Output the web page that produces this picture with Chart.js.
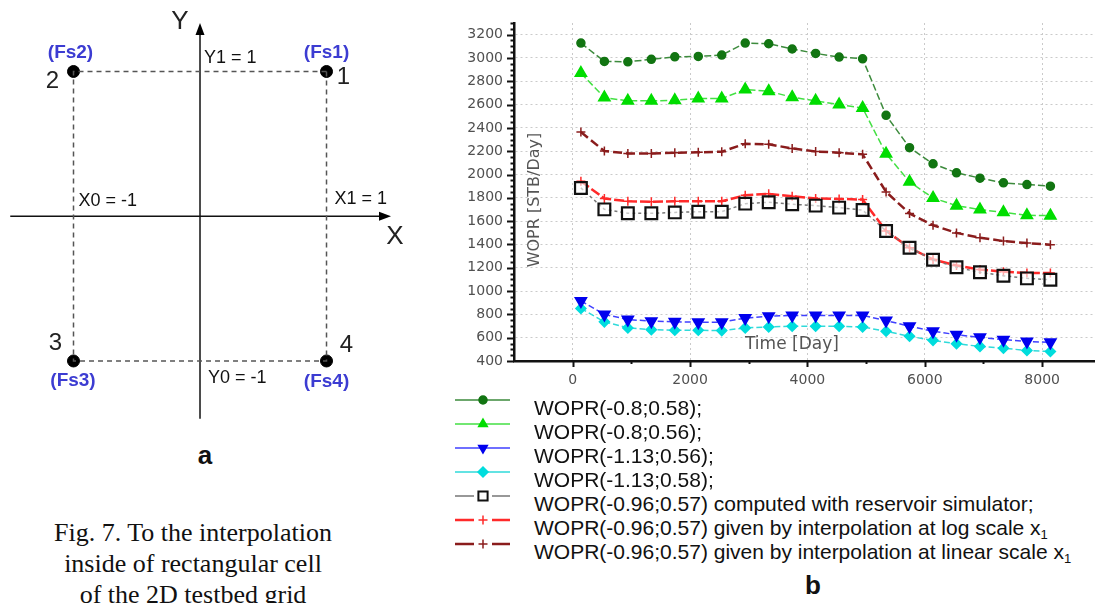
<!DOCTYPE html>
<html>
<head>
    <meta charset="utf-8">
    <title>WOPR interpolation</title>
    <script src="https://cdn.jsdelivr.net/npm/chart.js"></script>
    <style type="text/css">
        html, body { margin: 0; padding: 0; background: #fff; }
        body { width: 1095px; height: 603px; position: relative; overflow: hidden;
               font-family: "Liberation Sans", Arial, sans-serif; }
        #cell { position: absolute; left: 0; top: 0; }
        #wopr { position: absolute; left: 440px; top: 0; }
        .panel { position: absolute; width: 40px; text-align: center; font-weight: bold;
                 font-size: 26px; line-height: 30px; color: #111; }
        #caption { position: absolute; left: 0; top: 517px; width: 386px; text-align: center;
                   font-family: "Liberation Serif", "Times New Roman", serif; font-size: 26px;
                   line-height: 31px; color: #111; }
        .lg-text { position: absolute; left: 534px; height: 24px; line-height: 24px; font-size: 21px;
                   color: #111; white-space: nowrap; }
        .lg-swatch { position: absolute; left: 455px; }
        sub { font-size: 13px; vertical-align: -4px; line-height: 0; }
    </style>
</head>
<body>
    <canvas id="cell" width="420" height="430"></canvas>
    <canvas id="wopr" width="655" height="400"></canvas>
    <div class="panel" style="left:185px; top:440px;">a</div>
    <div class="panel" style="left:793px; top:570px;">b</div>
    <div id="caption">Fig. 7. To the interpolation<br>inside of rectangular cell<br>of the 2D testbed grid</div>
    <div id="legend"></div>

    <script>
        // ---- panel a : interpolation cell ----
        const cellX = [1, -1, -1, 1];
        const cellY = [1, 1, -1, -1];
        const cellNums = ['1', '2', '3', '4'];
        const cellFs = ['(Fs1)', '(Fs2)', '(Fs3)', '(Fs4)'];
        const axisXRange = [-1.5, 1.51];
        const axisYRange = [-1.4, 1.335];
        const boundLabels = ['Y1 = 1', 'X0 = -1', 'X1 = 1', 'Y0 = -1'];
        const boundAt = [[0, 1], [-1, 0], [1, 0], [0, -1]];

        // ---- panel b : WOPR vs time ----
        const days = [140, 540, 940, 1340, 1740, 2140, 2540, 2940, 3340, 3740, 4140,
            4540, 4940, 5340, 5740, 6140, 6540, 6940, 7340, 7740, 8140];
        const woprA = [3128, 2970, 2967, 2988, 3010, 3013, 3025, 3128, 3122, 3077, 3039,
            3008, 2993, 2508, 2230, 2092, 2015, 1969, 1929, 1914, 1900];
        const woprB = [2870, 2660, 2632, 2632, 2637, 2652, 2652, 2729, 2715, 2663, 2632,
            2600, 2571, 2178, 1937, 1799, 1733, 1699, 1676, 1650, 1647];
        const woprC = [915, 800, 756, 742, 736, 733, 733, 768, 785, 791, 791,
            791, 791, 747, 698, 655, 626, 603, 583, 568, 560];
        const woprD = [851, 736, 684, 669, 664, 664, 661, 684, 692, 698, 698,
            698, 692, 655, 612, 577, 548, 525, 510, 490, 482];
        const woprSim = [1885, 1701, 1667, 1667, 1675, 1681, 1681, 1750, 1762, 1745, 1733,
            1716, 1695, 1516, 1372, 1268, 1204, 1161, 1132, 1109, 1097];
        const woprLog = [1943, 1794, 1771, 1766, 1771, 1771, 1771, 1822, 1834, 1814, 1794,
            1791, 1785, 1516, 1372, 1271, 1219, 1184, 1166, 1155, 1155];
        const woprLin = [2365, 2201, 2181, 2181, 2187, 2190, 2196, 2264, 2259, 2224, 2198,
            2187, 2173, 1851, 1666, 1565, 1499, 1458, 1429, 1412, 1398];
        const seriesNames = [
            'WOPR(-0.8;0.58);',
            'WOPR(-0.8;0.56);',
            'WOPR(-1.13;0.56);',
            'WOPR(-1.13;0.58);',
            'WOPR(-0.96;0.57) computed with reservoir simulator;',
            'WOPR(-0.96;0.57) given by interpolation at log scale x₁',
            'WOPR(-0.96;0.57) given by interpolation at linear scale x₁'
        ];
        const xTicks = [0, 2000, 4000, 6000, 8000];
        const yTicks = [400, 600, 800, 1000, 1200, 1400, 1600, 1800, 2000, 2200, 2400,
            2600, 2800, 3000, 3200];
        const yTickStep = 200, yMinorStep = 50;
        const xTickStep = 2000, xMinorStep = 1000;

        // ---------- panel a ----------
        const corners = cellX.map((x, i) => ({ x: x, y: cellY[i] }));

        const cellDecor = {
            id: 'cellDecor',
            afterDatasetsDraw(chart) {
                const ctx = chart.ctx;
                const sx = chart.scales.x, sy = chart.scales.y;
                const px = v => sx.getPixelForValue(v), py = v => sy.getPixelForValue(v);
                ctx.save();
                ctx.fillStyle = '#000';
                // arrow heads
                let tx = px(axisXRange[1]), ty = py(0);
                ctx.beginPath();
                ctx.moveTo(tx, ty); ctx.lineTo(tx - 12, ty - 4.5); ctx.lineTo(tx - 12, ty + 4.5);
                ctx.closePath(); ctx.fill();
                tx = px(0); ty = py(axisYRange[1]);
                ctx.beginPath();
                ctx.moveTo(tx, ty); ctx.lineTo(tx - 4.5, ty + 12); ctx.lineTo(tx + 4.5, ty + 12);
                ctx.closePath(); ctx.fill();

                ctx.textAlign = 'center';
                ctx.textBaseline = 'middle';
                ctx.fillStyle = '#222';
                ctx.font = '26px "Liberation Sans", Arial';
                ctx.fillText('Y', px(0) - 20, py(axisYRange[1]) - 1);
                ctx.fillText('X', px(axisXRange[1]) + 4, py(0) + 21);

                const fsOff = [[0, -19], [-3, -19], [-0.5, 20], [0, 21]];
                const numOff = [[17, 6], [-21, 9.5], [-18, -17.5], [20, -16]];
                corners.forEach((c, i) => {
                    ctx.font = 'bold 19px "Liberation Sans", Arial';
                    ctx.fillStyle = '#3c3cd2';
                    ctx.fillText(cellFs[i], px(c.x) + fsOff[i][0], py(c.y) + fsOff[i][1]);
                    ctx.font = '24px "Liberation Sans", Arial';
                    ctx.fillStyle = '#222';
                    ctx.fillText(cellNums[i], px(c.x) + numOff[i][0], py(c.y) + numOff[i][1]);
                });

                const bOff = [[4, -13], [5, -15], [8, -17], [8, 17]];
                ctx.textAlign = 'left';
                ctx.font = '18px "Liberation Sans", Arial';
                ctx.fillStyle = '#111';
                boundLabels.forEach((t, i) => {
                    ctx.fillText(t, px(boundAt[i][0]) + bOff[i][0], py(boundAt[i][1]) + bOff[i][1]);
                });
                ctx.restore();
            }
        };

        new Chart(document.getElementById('cell'), {
            type: 'scatter',
            data: {
                datasets: [{
                    data: corners.concat([corners[0]]),
                    showLine: true, borderColor: '#555', borderWidth: 1.5, borderDash: [5, 4],
                    pointRadius: 0
                }, {
                    data: [{ x: axisXRange[0], y: 0 }, { x: axisXRange[1] - 0.05, y: 0 }],
                    showLine: true, borderColor: '#111', borderWidth: 1.5, pointRadius: 0
                }, {
                    data: [{ x: 0, y: axisYRange[0] }, { x: 0, y: axisYRange[1] - 0.05 }],
                    showLine: true, borderColor: '#111', borderWidth: 1.5, pointRadius: 0
                }, {
                    data: corners,
                    pointRadius: 6, pointBackgroundColor: '#000', pointBorderColor: '#000'
                }]
            },
            options: {
                responsive: false,
                animation: false,
                clip: false,
                layout: { padding: 0, autoPadding: false },
                plugins: { legend: { display: false }, tooltip: { enabled: false } },
                scales: {
                    x: { type: 'linear', display: false, min: -1.581, max: 1.739 },
                    y: { type: 'linear', display: false, min: -1.477, max: 1.494 }
                }
            },
            plugins: [cellDecor]
        });

        // ---------- panel b ----------
        const pts = vals => vals.map((v, i) => ({ x: days[i], y: v }));

        const styles = [
            { line: '#3d8b3d', mark: '#127512', style: 'circle', r: 4, dash: [7, 3], w: 1.5 },
            { line: '#44e044', mark: '#00dd00', style: 'triangle', r: 6.5, dash: [7, 3], w: 1.5 },
            { line: '#4040ff', mark: '#0000ee', style: 'triangle', r: 6.5, rot: 180, dash: [6, 3], w: 1.5 },
            { line: '#30dada', mark: '#00dddd', style: 'rectRot', r: 5, dash: [6, 3], w: 1.5 },
            { line: '#777777', mark: '#111111', style: 'rect', r: 8.3, dash: [3, 3], w: 1.5, open: true },
            { line: '#ff2a2a', mark: '#ff2a2a', style: 'cross', r: 4.5, dash: [10, 3], w: 2.5 },
            { line: '#8a1c1c', mark: '#8a1c1c', style: 'cross', r: 4.5, dash: [9, 4], w: 2.5 }
        ];
        const seriesVals = [woprA, woprB, woprC, woprD, woprSim, woprLog, woprLin];

        const datasets = seriesVals.map((vals, i) => {
            const s = styles[i];
            return {
                label: seriesNames[i],
                data: pts(vals),
                borderColor: s.line,
                borderWidth: s.w,
                borderDash: s.dash,
                tension: 0,
                pointStyle: s.style,
                pointRadius: s.r,
                pointRotation: s.rot || 0,
                pointBackgroundColor: s.open ? 'rgba(255,255,255,0.6)' : s.mark,
                pointBorderColor: s.mark,
                pointBorderWidth: s.open ? 2.2 : 1.5
            };
        });

        const axisDecor = {
            id: 'axisDecor',
            afterDraw(chart) {
                const ctx = chart.ctx, a = chart.chartArea;
                const sx = chart.scales.x, sy = chart.scales.y;
                ctx.save();
                ctx.strokeStyle = '#111';
                ctx.lineWidth = 2;
                for (let v = sy.min; v <= sy.max; v += yMinorStep) {
                    const p = Math.round(sy.getPixelForValue(v)) + 0.5;
                    const len = v % yTickStep === 0 ? 7 : 3.5;
                    ctx.beginPath(); ctx.moveTo(a.left - len, p); ctx.lineTo(a.left, p); ctx.stroke();
                }
                for (let v = 0; v <= sx.max; v += xMinorStep) {
                    const p = Math.round(sx.getPixelForValue(v)) + 0.5;
                    const len = v % xTickStep === 0 ? 6 : 3;
                    ctx.beginPath(); ctx.moveTo(p, a.bottom); ctx.lineTo(p, a.bottom + len); ctx.stroke();
                }
                ctx.fillStyle = '#555';
                ctx.textBaseline = 'middle';
                ctx.textAlign = 'center';
                ctx.font = '16px "DejaVu Sans"';
                ctx.translate(a.left + 21, 200);
                ctx.rotate(-Math.PI / 2);
                ctx.fillText('WOPR [STB/Day]', 0, 0);
                ctx.setTransform(1, 0, 0, 1, 0, 0);
                ctx.textAlign = 'left';
                ctx.font = '17px "DejaVu Sans"';
                ctx.fillText('Time [Day]', a.left + 231, a.bottom - 16);
                ctx.restore();
            }
        };

        const tickFont = { family: 'DejaVu Sans', size: 14 };
        new Chart(document.getElementById('wopr'), {
            type: 'line',
            data: { datasets: datasets },
            options: {
                responsive: false,
                animation: false,
                layout: { padding: { top: 23, right: 0, left: 0, bottom: 0 }, autoPadding: false },
                plugins: { legend: { display: false }, tooltip: { enabled: false } },
                scales: {
                    x: {
                        type: 'linear', min: -1000, max: 8900,
                        afterBuildTicks: s => { s.ticks = xTicks.map(v => ({ value: v })); },
                        ticks: { color: '#505050', font: tickFont, padding: 11, maxRotation: 0,
                                 autoSkip: false, callback: v => String(v) },
                        grid: { color: '#cacaca', drawTicks: false, lineWidth: 1 },
                        border: { color: '#111', width: 2.5, dash: [2, 3] },
                        afterFit: s => { s.height = 39; }
                    },
                    y: {
                        min: 400, max: 3300,
                        afterBuildTicks: s => { s.ticks = yTicks.map(v => ({ value: v })); },
                        ticks: { color: '#505050', font: tickFont, padding: 11, autoSkip: false,
                                 callback: v => String(v) },
                        grid: { color: '#cacaca', drawTicks: false, lineWidth: 1 },
                        border: { color: '#111', width: 2.5, dash: [2, 3] },
                        afterFit: s => { s.width = 74; }
                    }
                }
            },
            plugins: [axisDecor]
        });

        // legend built from the same series
        const legend = document.getElementById('legend');
        seriesNames.forEach((name, i) => {
            const s = styles[i];
            const row = document.createElement('div');
            row.className = 'lg-text';
            row.style.top = (396 + 24 * i) + 'px';
            row.innerHTML = name.replace('₁', '<sub>1</sub>');
            legend.appendChild(row);

            const c = document.createElement('canvas');
            c.className = 'lg-swatch';
            c.width = 57; c.height = 16;
            c.style.top = (400 + 24 * i - 8) + 'px';
            legend.appendChild(c);
            const g = c.getContext('2d');
            g.strokeStyle = s.line;
            g.lineWidth = s.w;
            const gap = (s.style === 'rect' || s.style === 'cross') ? 9 : 0;
            g.beginPath(); g.moveTo(0, 8); g.lineTo(28 - gap, 8);
            g.moveTo(28 + gap, 8); g.lineTo(55, 8); g.stroke();
            g.fillStyle = s.open ? '#fff' : s.mark;
            g.strokeStyle = s.mark;
            g.lineWidth = s.open ? 2 : 1.5;
            const r = s.style === 'rect' ? 6.5 : Math.min(s.r, 5);
            Chart.helpers.drawPoint(g, { pointStyle: s.style, radius: r, rotation: s.rot || 0, borderWidth: g.lineWidth }, 28, 8);
        });
    </script>
</body>
</html>
